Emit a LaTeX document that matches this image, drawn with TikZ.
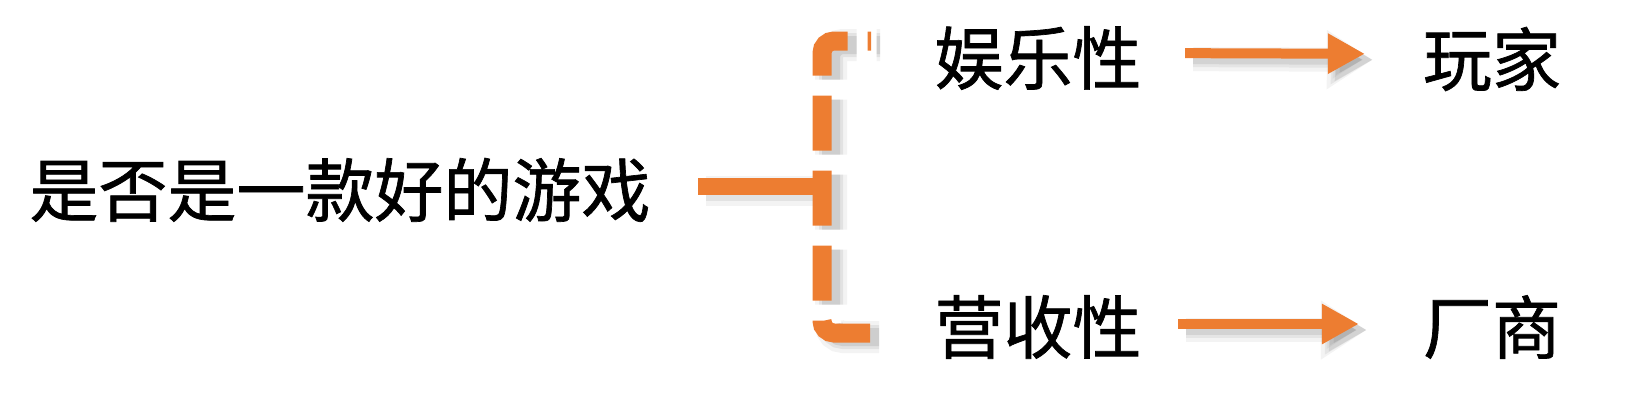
\documentclass[tikz,border=0pt]{standalone}
\usepackage{fontspec}
\newfontfamily\cjk[FakeBold=1]{Noto Sans CJK SC}
\usetikzlibrary{arrows.meta}
\definecolor{accent}{HTML}{ED7D31}
\tikzset{
  lbl/.style={inner sep=0pt, font=\cjk\fontsize{69}{69}\selectfont, text=black},
  arr/.style={draw=accent, line width=10pt,
    -{Triangle[length=37pt,width=38pt]}},
  arrshadow/.style={
    preaction={draw=black!60, opacity=0.08, line width=24pt, -{Triangle[length=46pt,width=56pt]}, transform canvas={shift={(8pt,-6pt)}}},
    preaction={draw=black!60, opacity=0.10, line width=16pt, -{Triangle[length=42pt,width=46pt]}, transform canvas={shift={(8pt,-6pt)}}},
    preaction={draw=black!60, opacity=0.14, line width=10pt, -{Triangle[length=38pt,width=40pt]}, transform canvas={shift={(8pt,-6pt)}}}
  },
  brk/.style={draw=accent, line width=19pt, rounded corners=12pt,
    dash pattern=on 55pt off 20pt, line cap=butt},
  brkshadow/.style={
    preaction={draw=black!60, opacity=0.08, line width=32pt, rounded corners=12pt, dash pattern=on 55pt off 20pt, transform canvas={shift={(9pt,-4pt)}}},
    preaction={draw=black!60, opacity=0.12, line width=24pt, rounded corners=12pt, dash pattern=on 55pt off 20pt, transform canvas={shift={(9pt,-4pt)}}},
    preaction={draw=black!60, opacity=0.16, line width=18pt, rounded corners=12pt, dash pattern=on 55pt off 20pt, transform canvas={shift={(9pt,-4pt)}}}
  },
  stem/.style={draw=accent, line width=17pt},
  stemshadow/.style={
    preaction={draw=black!60, opacity=0.08, line width=30pt, transform canvas={shift={(8pt,-5pt)}}},
    preaction={draw=black!60, opacity=0.12, line width=20pt, transform canvas={shift={(8pt,-5pt)}}}
  }
}
\begin{document}
\begin{tikzpicture}[x=1pt,y=-1pt]
\useasboundingbox (0,0) rectangle (1627,405);
\node[lbl] (main) at (340,190) {是否是一款好的游戏};
\node[lbl] (ent) at (1038,58) {娱乐性};
\node[lbl] (rev) at (1038,327) {营收性};
\node[lbl] (player) at (1492,59) {玩家};
\node[lbl] (maker) at (1492,327) {厂商};
\coordinate (j) at (822,186);
\coordinate (bb) at (870,333);
\coordinate (bt) at (871,41);
\draw[stem, stemshadow, shorten <=47.5pt] ([yshift=4pt]main.east) -- (j);
\draw[brk, brkshadow] (bb) -- (822,333) -- (822,41) -- (bt);
\draw[arr, arrshadow, shorten <=43.5pt, shorten >=58pt] ([yshift=5pt]ent.east) -- ([yshift=5pt]player.west);
\draw[arr, arrshadow, shorten <=36.5pt, shorten >=64pt] ([yshift=3pt]rev.east) -- ([yshift=3pt]maker.west);
\end{tikzpicture}
\end{document}
